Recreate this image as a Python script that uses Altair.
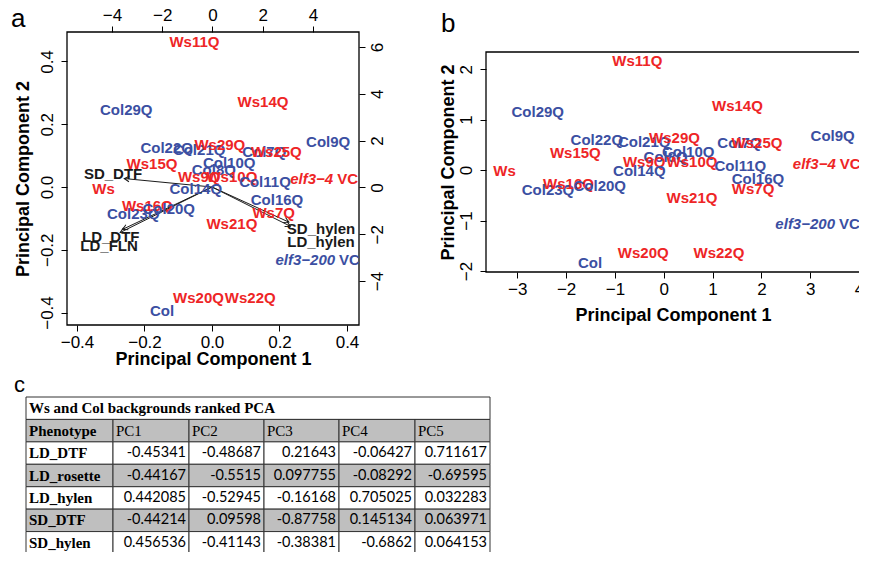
import altair as alt
import pandas as pd

RED = "#EE2526"
BLUE = "#3B4FA2"
INK = "#1A1A1A"
FONT = "Liberation Sans"
SERIF = "Liberation Serif"
NUMFONT = "Lato"

# ---------------- data: PCA scores (panel b units) ----------------
names = ["Ws11Q", "Col29Q", "Ws14Q", "Col22Q", "Col21Q", "Ws29Q", "Col9Q", "Col7Q",
         "Ws25Q", "Ws15Q", "Col10Q", "Col8Q", "Ws9Q", "Ws10Q", "Col11Q", "Col14Q",
         "Col16Q", "Ws7Q", "Ws", "Col23Q", "Ws16Q", "Col20Q", "Ws21Q", "Ws20Q",
         "Ws22Q", "Col"]
groups = ["Ws", "Col", "Ws", "Col", "Col", "Ws", "Col", "Col",
          "Ws", "Ws", "Col", "Col", "Ws", "Ws", "Col", "Col",
          "Col", "Ws", "Ws", "Col", "Ws", "Col", "Ws", "Ws",
          "Ws", "Col"]
pc1 = [-0.54, -2.58, 1.51, -1.37, -0.40, 0.22, 3.46, 1.55,
       1.91, -1.81, 0.50, 0.04, -0.40, 0.58, 1.57, -0.50,
       1.93, 1.83, -3.26, -2.37, -1.95, -1.31, 0.58, -0.42,
       1.13, -1.51]
pc2 = [2.16, 1.15, 1.27, 0.59, 0.55, 0.63, 0.67, 0.53,
       0.53, 0.34, 0.36, 0.26, 0.16, 0.16, 0.08, -0.02,
       -0.18, -0.38, -0.02, -0.40, -0.28, -0.32, -0.55, -1.64,
       -1.64, -1.84]

# mutant controls (italic gene name + " VC")
vc_gene = ["elf3\u22124", "elf3\u2212200"]
vc_groups = ["Ws", "Col"]
vc_pc1 = [3.34, 3.16]
vc_pc2 = [0.12, -1.07]

# biplot score scaling (top/right axes vs panel b)
score_scale_x = 1.33
score_scale_y = 2.88

# ---------------- data: biplot loadings (panel a, bottom/left units) ----------------
load_names = ["SD_DTF", "LD_DTF", "LD_FLN", "SD_hylen", "LD_hylen"]
arrow_x = [-0.260, -0.265, -0.272, 0.228, 0.232]
arrow_y = [0.027, -0.135, -0.145, -0.112, -0.125]
label_x = [-0.293, -0.300, -0.305, 0.323, 0.323]
label_y = [0.041, -0.158, -0.188, -0.134, -0.175]

# ---------------- data: table c ----------------
table_title = "Ws and Col backgrounds ranked PCA"
table_header = ["Phenotype", "PC1", "PC2", "PC3", "PC4", "PC5"]
phenotypes = ["LD_DTF", "LD_rosette", "LD_hylen", "SD_DTF", "SD_hylen"]
pc1_load = [-0.45341, -0.44167, 0.442085, -0.44214, 0.456536]
pc2_load = [-0.48687, -0.5515, -0.52945, 0.09598, -0.41143]
pc3_load = [0.21643, 0.097755, -0.16168, -0.87758, -0.38381]
pc4_load = [-0.06427, -0.08292, 0.705025, 0.145134, -0.6862]
pc5_load = [0.711617, -0.69595, 0.032283, 0.063971, 0.064153]

# ---------------- layout constants ----------------
A_W, A_H = 292, 293
A_XDOM = [-0.4296, 0.4356]
A_YDOM = [-0.4398, 0.4940]
A_SXDOM = [-5.79, 5.83]
A_SYDOM = [-5.88, 6.64]
B_W, B_H, B_TOP = 374, 240, 20
B_XDOM = [-3.64, 4.02]
B_YDOM = [-2.02, 2.34]
T_W, T_H, T_LEFT = 464, 157, -41
col_edges = [0, 87, 163, 238, 313, 389, 464]
n_rows = 7

color_scale = alt.Scale(domain=["Ws", "Col"], range=[RED, BLUE])


def ax(**kw):
    base = dict(labelFont=FONT, labelFontSize=17, labelColor="black", tickColor="black",
                tickSize=6, tickWidth=1, domain=False, grid=False, labelFlush=False,
                labelOverlap=False, labelBound=False, titleFont=FONT, titleFontSize=18,
                titleFontWeight="bold", titleColor="black")
    base.update(kw)
    return alt.Axis(**base)


scores = pd.DataFrame({"name": names, "grp": groups, "pc1": pc1, "pc2": pc2})
vcdf = pd.DataFrame({"gene": vc_gene, "grp": vc_groups, "pc1": vc_pc1, "pc2": vc_pc2})
loads = pd.DataFrame({"name": load_names, "ax": arrow_x, "ay": arrow_y,
                      "lx": label_x, "ly": label_y})

# ================= panel a =================
a_x_ax = ax(values=[-0.4, -0.2, 0, 0.2, 0.4], format=".1f", orient="bottom",
            labelPadding=3, title="Principal Component 1", titlePadding=0)
a_y_ax = ax(values=[-0.4, -0.2, 0, 0.2, 0.4], format=".1f", orient="left",
            labelAngle=-90, labelAlign="center", labelBaseline="bottom", labelPadding=5,
            title="Principal Component 2", titlePadding=6)
a_xs = alt.Scale(domain=A_XDOM, nice=False, zero=False)
a_ys = alt.Scale(domain=A_YDOM, nice=False, zero=False)
kx = A_W / (A_XDOM[1] - A_XDOM[0])
ky = A_H / (A_YDOM[1] - A_YDOM[0])

lb = alt.Chart(loads)
frame_a = alt.Chart(pd.DataFrame({"k": [0]})).mark_rect(
    fill=None, stroke="black", strokeWidth=1.3).encode(
    x=alt.X(datum=A_XDOM[0], scale=a_xs, axis=a_x_ax),
    x2=alt.datum(A_XDOM[1]),
    y=alt.Y(datum=A_YDOM[0], scale=a_ys, axis=a_y_ax),
    y2=alt.datum(A_YDOM[1]))
arrows = lb.mark_rule(color=INK, strokeWidth=1).encode(
    x=alt.X("ax:Q", scale=a_xs, axis=a_x_ax), x2=alt.datum(0),
    y=alt.Y("ay:Q", scale=a_ys, axis=a_y_ax), y2=alt.datum(0))
heads = lb.transform_calculate(
    ang=f"(atan2(datum.ax*{kx:.3f}, datum.ay*{ky:.3f})*180/PI + 360) % 360"
).mark_point(shape="M-0.55,1L0,0L0.55,1", filled=False, size=100,
             color=INK, strokeWidth=1, opacity=1).encode(
    x=alt.X("ax:Q", scale=a_xs, axis=a_x_ax),
    y=alt.Y("ay:Q", scale=a_ys, axis=a_y_ax),
    angle=alt.Angle("ang:Q", scale=None))
load_text = lb.mark_text(font=FONT, fontSize=15, fontWeight="bold", color=INK,
                         align="center", baseline="middle").encode(
    x=alt.X("lx:Q", scale=a_xs, axis=a_x_ax),
    y=alt.Y("ly:Q", scale=a_ys, axis=a_y_ax),
    text="name:N")
letter_a = alt.Chart(pd.DataFrame({"t": ["a"]})).mark_text(
    font=FONT, fontSize=26, align="left", baseline="alphabetic", color="black").encode(
    text="t:N", x=alt.value(-56), y=alt.value(-5))

a_sx_ax = ax(values=[-4, -2, 0, 2, 4], format="d", orient="top", labelPadding=2, title=None)
a_sy_ax = ax(values=[-4, -2, 0, 2, 4, 6], format="d", orient="right",
             labelAngle=-90, labelAlign="center", labelBaseline="top", labelPadding=4,
             title=None)
a_sxs = alt.Scale(domain=A_SXDOM, nice=False, zero=False)
a_sys = alt.Scale(domain=A_SYDOM, nice=False, zero=False)

score_text_a = alt.Chart(scores).transform_calculate(
    sx=f"datum.pc1*{score_scale_x}", sy=f"datum.pc2*{score_scale_y}"
).mark_text(font=FONT, fontSize=15, fontWeight="bold", align="center",
            baseline="middle", clip=True).encode(
    x=alt.X("sx:Q", scale=a_sxs, axis=a_sx_ax),
    y=alt.Y("sy:Q", scale=a_sys, axis=a_sy_ax),
    color=alt.Color("grp:N", scale=color_scale, legend=None),
    text="name:N")

vc_dx = {"elf3\u22124": 9, "elf3\u2212200": 17}


def vc_layers(xfield_expr_x, xfield_expr_y, xs, ys, xax, yax):
    out = []
    for g in vc_gene:
        d = vc_dx[g]
        base = alt.Chart(vcdf).transform_filter(alt.datum.gene == g).transform_calculate(
            sx=xfield_expr_x, sy=xfield_expr_y, vc="'VC'")
        enc = dict(x=alt.X("sx:Q", scale=xs, axis=xax), y=alt.Y("sy:Q", scale=ys, axis=yax),
                   color=alt.Color("grp:N", scale=color_scale, legend=None))
        out.append(base.mark_text(font=FONT, fontSize=15, fontWeight="bold",
                                  fontStyle="italic", align="right", baseline="middle",
                                  dx=d, clip=True).encode(text="gene:N", **enc))
        out.append(base.mark_text(font=FONT, fontSize=15, fontWeight="bold",
                                  align="left", baseline="middle", dx=d + 4,
                                  clip=True).encode(text="vc:N", **enc))
    return out


vc_a = vc_layers(f"datum.pc1*{score_scale_x}", f"datum.pc2*{score_scale_y}",
                 a_sxs, a_sys, a_sx_ax, a_sy_ax)

panel_a = alt.layer(
    alt.layer(frame_a, arrows, heads, load_text, letter_a),
    alt.layer(score_text_a, *vc_a),
).resolve_scale(x="independent", y="independent").resolve_axis(
    x="independent", y="independent").properties(width=A_W, height=A_H)

# ================= panel b =================
b_x_ax = ax(values=[-3, -2, -1, 0, 1, 2, 3, 4], format="d", orient="bottom",
            labelPadding=3, title="Principal Component 1", titlePadding=9)
b_y_ax = ax(values=[-2, -1, 0, 1, 2], format="d", orient="left",
            labelAngle=-90, labelAlign="center", labelBaseline="bottom", labelPadding=5,
            title="Principal Component 2", titlePadding=0)
b_xs = alt.Scale(domain=B_XDOM, nice=False, zero=False, range=[0, B_W])
b_ys = alt.Scale(domain=B_YDOM, nice=False, zero=False, range=[B_H, B_TOP])

frame_b = alt.Chart(pd.DataFrame({"k": [0]})).mark_rect(
    fill=None, stroke="black", strokeWidth=1.3).encode(
    x=alt.X(datum=B_XDOM[0], scale=b_xs, axis=b_x_ax),
    x2=alt.datum(B_XDOM[1]),
    y=alt.Y(datum=B_YDOM[0], scale=b_ys, axis=b_y_ax),
    y2=alt.datum(B_YDOM[1]))
score_text_b = alt.Chart(scores).transform_calculate(sx="datum.pc1", sy="datum.pc2").mark_text(
    font=FONT, fontSize=15, fontWeight="bold", align="center", baseline="middle",
    clip=True).encode(
    x=alt.X("sx:Q", scale=b_xs, axis=b_x_ax),
    y=alt.Y("sy:Q", scale=b_ys, axis=b_y_ax),
    color=alt.Color("grp:N", scale=color_scale, legend=None),
    text="name:N")
vc_b = vc_layers("datum.pc1", "datum.pc2", b_xs, b_ys, b_x_ax, b_y_ax)
letter_b = alt.Chart(pd.DataFrame({"t": ["b"]})).mark_text(
    font=FONT, fontSize=26, align="left", baseline="alphabetic", color="black").encode(
    text="t:N", x=alt.value(-45), y=alt.value(0))

panel_b = alt.layer(frame_b, score_text_b, *vc_b, letter_b).properties(width=B_W, height=B_H)

# ================= table c =================
vals = [pc1_load, pc2_load, pc3_load, pc4_load, pc5_load]
rows = []
rows.append(dict(x0=col_edges[0], x1=col_edges[-1], r0=0, r1=1, fill="white",
                 text=table_title, kind="bold", tx=col_edges[0] + 3))
for c, h in enumerate(table_header):
    rows.append(dict(x0=col_edges[c], x1=col_edges[c + 1], r0=1, r1=2, fill="#BFBFBF",
                     text=h, kind="bold" if c == 0 else "plain", tx=col_edges[c] + 3))
for i, ph in enumerate(phenotypes):
    fill = "#BFBFBF" if i % 2 == 1 else "white"
    rows.append(dict(x0=col_edges[0], x1=col_edges[1], r0=i + 2, r1=i + 3, fill=fill,
                     text=ph, kind="bold", tx=col_edges[0] + 3))
    for c in range(5):
        rows.append(dict(x0=col_edges[c + 1], x1=col_edges[c + 2], r0=i + 2, r1=i + 3,
                         fill=fill, text=str(vals[c][i]), kind="num",
                         tx=col_edges[c + 2] - 3))
tdf = pd.DataFrame(rows)
tdf["rm"] = (tdf["r0"] + tdf["r1"]) / 2

t_xs = alt.Scale(domain=[0, T_W], range=[T_LEFT, T_LEFT + T_W], nice=False, zero=False)
t_ys = alt.Scale(domain=[0, n_rows], range=[0, T_H], nice=False, zero=False)
tb = alt.Chart(tdf)
cells = tb.mark_rect(stroke="#333333", strokeWidth=1).encode(
    x=alt.X("x0:Q", scale=t_xs, axis=None), x2="x1:Q",
    y=alt.Y("r0:Q", scale=t_ys, axis=None), y2="r1:Q",
    fill=alt.Fill("fill:N", scale=None))
txt_bold = tb.transform_filter(alt.datum.kind == "bold").mark_text(
    font=SERIF, fontSize=15, fontWeight="bold", align="left", baseline="middle",
    color="black").encode(x=alt.X("tx:Q", scale=t_xs, axis=None),
                          y=alt.Y("rm:Q", scale=t_ys, axis=None), text="text:N")
txt_plain = tb.transform_filter(alt.datum.kind == "plain").mark_text(
    font=SERIF, fontSize=15, align="left", baseline="middle", color="black").encode(
    x=alt.X("tx:Q", scale=t_xs, axis=None), y=alt.Y("rm:Q", scale=t_ys, axis=None),
    text="text:N")
txt_num = tb.transform_filter(alt.datum.kind == "num").mark_text(
    font=NUMFONT, fontSize=14.5, align="right", baseline="middle", color="black").encode(
    x=alt.X("tx:Q", scale=t_xs, axis=None), y=alt.Y("rm:Q", scale=t_ys, axis=None),
    text="text:N")
letter_c = alt.Chart(pd.DataFrame({"t": ["c"]})).mark_text(
    font=FONT, fontSize=22, align="left", baseline="alphabetic", color="black").encode(
    text="t:N", x=alt.value(-53), y=alt.value(-5))

table_c = alt.layer(cells, txt_bold, txt_plain, txt_num, letter_c).properties(
    width=T_W, height=T_H)

top_row = alt.hconcat(panel_a, panel_b, spacing=127, bounds="flush")
chart = alt.vconcat(top_row, table_c, spacing=6, bounds="full").properties(
    padding={"left": 3, "top": -2, "right": -5, "bottom": -3},
    background="white"
).configure_view(stroke="transparent", strokeWidth=0)

chart.save("out.html", embed_options={"renderer": "svg", "actions": False})
